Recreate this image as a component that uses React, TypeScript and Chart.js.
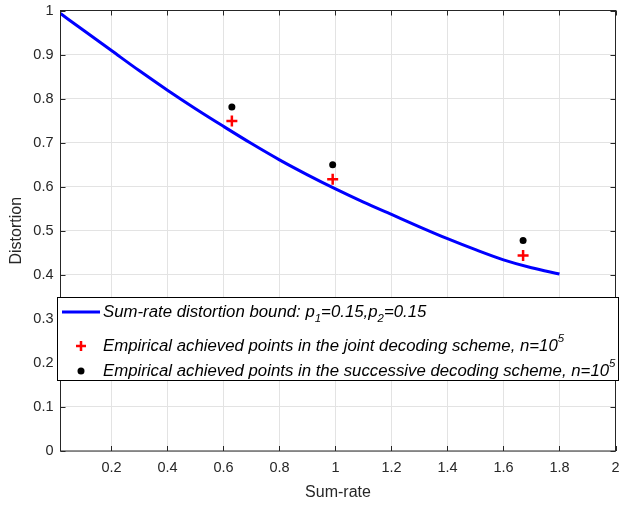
import React, { useEffect, useRef } from "react";
import { Chart, registerables } from "chart.js";

Chart.register(...registerables);

// ---- data ----
const boundRate = [0.018, 0.1, 0.2, 0.3, 0.4, 0.5, 0.6, 0.7, 0.8, 0.9, 1.0, 1.1, 1.2, 1.3, 1.4, 1.5, 1.6, 1.7, 1.8];
const boundDist = [0.993, 0.955, 0.909, 0.863, 0.819, 0.777, 0.737, 0.698, 0.661, 0.627, 0.595, 0.565, 0.537, 0.509, 0.482, 0.457, 0.434, 0.416, 0.402];
const jointRate = [0.63, 0.99, 1.67];
const jointDist = [0.749, 0.617, 0.444];
const succRate = [0.63, 0.99, 1.67];
const succDist = [0.781, 0.65, 0.478];
const xTicks = [0.2, 0.4, 0.6, 0.8, 1.0, 1.2, 1.4, 1.6, 1.8, 2.0];
const yTicks = [0, 0.1, 0.2, 0.3, 0.4, 0.5, 0.6, 0.7, 0.8, 0.9, 1.0];
const xTitle = "Sum-rate";
const yTitle = "Distortion";

type Part = { t: string; sub?: boolean; sup?: boolean };
const legendBound: Part[] = [
  { t: "Sum-rate distortion bound: p" }, { t: "1", sub: true }, { t: "=0.15,p" }, { t: "2", sub: true }, { t: "=0.15" },
];
const legendJoint: Part[] = [
  { t: "Empirical achieved points in the joint decoding scheme, n=10" }, { t: "5", sup: true },
];
const legendSucc: Part[] = [
  { t: "Empirical achieved points in the successive decoding scheme, n=10" }, { t: "5", sup: true },
];

const FONT = '"Liberation Sans", Arial, Helvetica, sans-serif';
const AXIS_COLOR = "#262626";

function drawRich(ctx: CanvasRenderingContext2D, parts: Part[], x: number, y: number, size: number) {
  let cx = x;
  ctx.textAlign = "left";
  ctx.textBaseline = "middle";
  for (const p of parts) {
    const fs = p.sub || p.sup ? size * 0.68 : size;
    ctx.font = `italic ${fs}px ${FONT}`;
    const dy = p.sub ? size * 0.38 : p.sup ? -size * 0.42 : 0;
    ctx.fillText(p.t, cx, y + dy);
    cx += ctx.measureText(p.t).width;
  }
}

const framePlugin = {
  id: "frame",
  afterDraw(chart: any) {
    const { ctx, chartArea: a, scales } = chart;
    ctx.save();
    // frame box
    ctx.strokeStyle = AXIS_COLOR;
    ctx.lineWidth = 1;
    ctx.strokeRect(a.left, a.top, a.right - a.left, a.bottom - a.top);
    // inward ticks on all sides
    const tl = 5;
    ctx.beginPath();
    xTicks.forEach((v) => {
      const px = Math.round(scales.x.getPixelForValue(v)) + 0.5;
      ctx.moveTo(px, a.bottom);
      ctx.lineTo(px, a.bottom - tl);
      ctx.moveTo(px, a.top);
      ctx.lineTo(px, a.top + tl);
    });
    yTicks.forEach((v) => {
      const py = Math.round(scales.y.getPixelForValue(v)) + 0.5;
      ctx.moveTo(a.left, py);
      ctx.lineTo(a.left + tl, py);
      ctx.moveTo(a.right, py);
      ctx.lineTo(a.right - tl, py);
    });
    ctx.stroke();

    // axis titles
    ctx.fillStyle = AXIS_COLOR;
    ctx.font = `16px ${FONT}`;
    ctx.textAlign = "center";
    ctx.textBaseline = "middle";
    ctx.fillText(xTitle, (a.left + a.right) / 2, 493);
    ctx.save();
    ctx.translate(17, (a.top + a.bottom) / 2);
    ctx.rotate(-Math.PI / 2);
    ctx.fillText(yTitle, 0, 0);
    ctx.restore();

    // legend
    const lx = 57, ly = 297, lw = 562, lh = 84;
    ctx.fillStyle = "#ffffff";
    ctx.fillRect(lx, ly, lw, lh);
    ctx.strokeStyle = "#000000";
    ctx.lineWidth = 1;
    ctx.strokeRect(lx + 0.5, ly + 0.5, lw - 1, lh - 1);

    const rows = [312, 346, 371];
    const textX = 103;
    const fs = 16.8;
    // row 1 line
    ctx.strokeStyle = "#0000ff";
    ctx.lineWidth = 3;
    ctx.beginPath();
    ctx.moveTo(62, rows[0]);
    ctx.lineTo(100, rows[0]);
    ctx.stroke();
    // row 2 cross
    ctx.strokeStyle = "#ff0000";
    ctx.lineWidth = 2.5;
    ctx.beginPath();
    ctx.moveTo(81 - 5, rows[1]);
    ctx.lineTo(81 + 5, rows[1]);
    ctx.moveTo(81, rows[1] - 5);
    ctx.lineTo(81, rows[1] + 5);
    ctx.stroke();
    // row 3 dot
    ctx.fillStyle = "#000000";
    ctx.beginPath();
    ctx.arc(81, rows[2], 3.5, 0, Math.PI * 2);
    ctx.fill();

    ctx.fillStyle = "#000000";
    drawRich(ctx, legendBound, textX, rows[0], fs);
    drawRich(ctx, legendJoint, textX, rows[1], fs);
    drawRich(ctx, legendSucc, textX, rows[2], fs);
    ctx.restore();
  },
};

export default function App() {
  const ref = useRef<HTMLCanvasElement | null>(null);
  useEffect(() => {
    document.body.style.margin = "0";
    const canvas = ref.current;
    if (!canvas) return;
    const chart = new Chart(canvas, {
      type: "scatter",
      data: {
        datasets: [
          {
            label: "bound",
            type: "line",
            data: boundRate.map((x, i) => ({ x, y: boundDist[i] })),
            borderColor: "#0000ff",
            borderWidth: 3,
            pointRadius: 0,
            fill: false,
            cubicInterpolationMode: "monotone",
          } as any,
          {
            label: "joint",
            data: jointRate.map((x, i) => ({ x, y: jointDist[i] })),
            pointStyle: "cross",
            pointRadius: 5.5,
            borderColor: "#ff0000",
            borderWidth: 2.5,
            backgroundColor: "#ff0000",
          },
          {
            label: "succ",
            data: succRate.map((x, i) => ({ x, y: succDist[i] })),
            pointStyle: "circle",
            pointRadius: 3.5,
            borderWidth: 0,
            backgroundColor: "#000000",
            borderColor: "#000000",
          },
        ],
      },
      options: {
        animation: false,
        responsive: false,
        devicePixelRatio: 1,
        layout: { autoPadding: false, padding: { top: 10.5, right: 3.5, left: 0, bottom: 0 } },
        plugins: { legend: { display: false }, tooltip: { enabled: false } },
        scales: {
          x: {
            type: "linear",
            min: 0.018,
            max: 2,
            border: { display: false },
            grid: { color: "#e3e3e3", lineWidth: 1, drawTicks: false },
            afterBuildTicks: (s: any) => {
              s.ticks = xTicks.map((v) => ({ value: v }));
            },
            afterFit: (s: any) => {
              s.height = 55;
              s.paddingLeft = 0;
              s.paddingRight = 0;
              s.paddingTop = 0;
              s.paddingBottom = 0;
            },
            ticks: {
              color: AXIS_COLOR,
              font: { family: FONT, size: 14.5 },
              padding: 8,
              maxRotation: 0,
              autoSkip: false,
              callback: (v: any) => String(Math.round(Number(v) * 10) / 10),
            },
          },
          y: {
            type: "linear",
            min: 0,
            max: 1,
            border: { display: false },
            grid: { color: "#e3e3e3", lineWidth: 1, drawTicks: false },
            afterBuildTicks: (s: any) => {
              s.ticks = yTicks.map((v) => ({ value: v }));
            },
            afterFit: (s: any) => {
              s.width = 60.5;
              s.paddingLeft = 0;
              s.paddingRight = 0;
              s.paddingTop = 0;
              s.paddingBottom = 0;
            },
            ticks: {
              color: AXIS_COLOR,
              font: { family: FONT, size: 14.5 },
              padding: 7,
              autoSkip: false,
              callback: (v: any) => String(Math.round(Number(v) * 10) / 10),
            },
          },
        },
      },
      plugins: [framePlugin],
    });
    return () => chart.destroy();
  }, []);
  return <canvas ref={ref} width={619} height={506} style={{ display: "block" }} />;
}
